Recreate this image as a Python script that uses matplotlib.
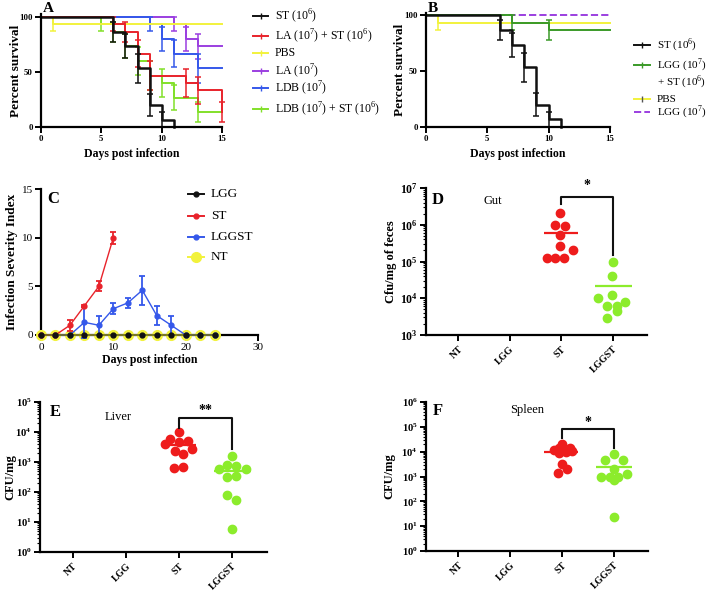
import matplotlib
matplotlib.use("Agg")
import matplotlib.pyplot as plt
from matplotlib.lines import Line2D
import numpy as np

plt.rcParams['font.family'] = 'Liberation Serif'
plt.rcParams['mathtext.fontset'] = 'custom'
plt.rcParams['mathtext.rm'] = 'Liberation Serif'
plt.rcParams['mathtext.bf'] = 'Liberation Serif:bold'

# ---- panel A : survival (%), step times and standard errors
a_st_t = [0, 6, 7, 8, 9, 10, 11]
a_st_s = [100, 86.7, 73.3, 53.3, 20, 6.7, 0]
a_st_e = [0, 9, 11, 13, 10, 6.5, 0]
a_last_t = [0, 6, 7, 8, 9, 12, 13, 15]
a_last_s = [100, 93.3, 86.7, 66.7, 46.7, 40, 33.3, 13.3]
a_last_e = [0, 6.5, 9, 12, 13, 13, 12, 9]
a_pbs_t = [0, 1, 15]
a_pbs_s = [100, 93.3, 93.3]
a_pbs_e = [0, 6.5, 0]
a_la_t = [0, 11, 12, 13, 15]
a_la_s = [100, 93.3, 80, 73.3, 73.3]
a_la_e = [0, 6.5, 10.5, 11.5, 0]
a_ldb_t = [0, 9, 10, 11, 13, 15]
a_ldb_s = [100, 93.3, 80, 66.7, 53.3, 53.3]
a_ldb_e = [0, 6.5, 10.5, 12, 13, 0]
a_ldbst_t = [0, 5, 6, 7, 8, 9, 10, 11, 13, 15]
a_ldbst_s = [100, 93.3, 86.7, 73.3, 60, 46.7, 40, 26.7, 13.3, 13.3]
a_ldbst_e = [0, 6.5, 9, 11, 12.5, 13, 13, 11.5, 9, 0]

# ---- panel B
b_lggst_t = [0, 7, 10, 15]
b_lggst_s = [100, 93.3, 86.7, 86.7]
b_lggst_e = [0, 6.5, 9, 0]
b_lgg_t = [0, 15]
b_lgg_s = [100, 100]

# ---- panel C : infection severity index
c_days = [0, 2, 4, 6, 8, 10, 12, 14, 16, 18, 20, 22, 24]
c_lgg = [0, 0, 0, 0, 0, 0, 0, 0, 0, 0, 0, 0, 0]
c_nt = [0, 0, 0, 0, 0, 0, 0, 0, 0, 0, 0, 0, 0]
c_st_days = [0, 2, 4, 6, 8, 10]
c_st = [0, 0, 1, 3, 5, 10]
c_st_err = [0, 0, 0.55, 0.1, 0.5, 0.6]
c_lggst = [0, 0, 0, 1.3, 1, 2.7, 3.3, 4.6, 2, 1, 0, 0, 0]
c_lggst_err = [0, 0, 0, 1.6, 1, 0.55, 0.5, 1.5, 1, 1, 0, 0, 0]

# ---- panels D, E, F : bacterial counts
groups = ['NT', 'LGG', 'ST', 'LGGST']
d_st = [2.1e6, 1.0e6, 9.4e5, 5.1e5, 2.6e5, 2.0e5, 1.26e5, 1.26e5, 1.26e5]
d_st_dx = [-0.03, -0.12, 0.07, -0.03, -0.03, 0.23, -0.28, -0.12, 0.06]
d_lggst = [1.0e5, 4.1e4, 1.2e4, 1.0e4, 6.3e3, 6.3e3, 7.9e3, 4.6e3, 2.9e3]
d_lggst_dx = [0, -0.01, -0.02, -0.28, -0.12, 0.07, 0.23, 0.07, -0.11]
d_means = [6e5, 2.1e4]

e_st = [9.8e3, 5.9e3, 4.6e3, 5.0e3, 3.9e3, 2.8e3, 2.3e3, 1.9e3, 650, 680]
e_st_dx = [0, -0.17, 0, 0.17, -0.26, 0.24, -0.08, 0.08, -0.1, 0.08]
e_lggst = [1.6e3, 780, 740, 590, 590, 316, 350, 78, 55, 6]
e_lggst_dx = [0, -0.09, 0.08, -0.24, 0.26, -0.09, 0.08, -0.09, 0.08, 0]
e_means = [3.8e3, 510]

f_st = [2.0e4, 1.2e4, 1.4e4, 1.35e4, 8.5e3, 1.0e4, 1.1e4, 3.2e3, 2.0e3, 1.4e3]
f_st_dx = [0, -0.16, -0.06, 0.16, -0.05, 0.08, 0.2, 0, 0.09, -0.08]
f_lggst = [8e3, 4.6e3, 4.6e3, 2.0e3, 1.0e3, 980, 1.0e3, 1.25e3, 700, 23]
f_lggst_dx = [0, -0.16, 0.18, 0, -0.24, -0.08, 0.08, 0.25, 0, 0]
f_means = [1.0e4, 2.5e3]

W, H = 708, 594
fig = plt.figure(figsize=(W / 100, H / 100), dpi=100)


def box(l, t, r, b):
    return [l / W, 1 - b / H, (r - l) / W, (b - t) / H]


def style(ax, lsize=7):
    for s in ['top', 'right']:
        ax.spines[s].set_visible(False)
    for s in ['left', 'bottom']:
        ax.spines[s].set_linewidth(1.6)
    ax.tick_params(direction='out', length=4, width=1.4, labelsize=lsize, pad=2)
    for lab in ax.get_xticklabels() + ax.get_yticklabels():
        lab.set_fontweight('bold')


def ylab(ax, text, xpos, size=9.5):
    ax.set_ylabel(text, fontsize=size, fontweight='bold', va='center')
    ax.yaxis.set_label_coords(xpos, 0.5)


def km(ax, t, s, e, color, lw=1.4, ls='-'):
    ax.step(t, s, where='post', color=color, lw=lw, ls=ls, clip_on=False)
    tt = [x for x, er in zip(t, e) if er > 0]
    ss = [y for y, er in zip(s, e) if er > 0]
    ee = [er for er in e if er > 0]
    ax.errorbar(tt, ss, yerr=ee, fmt='none', ecolor=color, elinewidth=1.1,
                capsize=2, capthick=1.1, clip_on=False)


def legend_entry(x0, x1, y, text, color, ls='-', marker=None, ms=4, mfc=None, size=8.5):
    fig.add_artist(Line2D([x0 / W, x1 / W], [1 - y / H, 1 - y / H], color=color,
                          lw=1.4, ls=ls))
    if marker:
        fig.add_artist(Line2D([(x0 + x1) / 2 / W], [1 - y / H], color=color, marker=marker,
                              ms=ms, mfc=mfc or color, mec=mfc or color, lw=0))
    fig.text((x1 + 7) / W, 1 - y / H, text, fontsize=size, va='center', ha='left')


black = '#111111'
red = '#e8232b'
yellow = '#f2f23c'
purple = '#9b3fe0'
blue = '#3558ea'
lgreen = '#82e02a'
dgreen = '#3a9a28'
dotred = '#ee1c1c'
dotgreen = '#8cec2c'

# ---------------- A
ax = fig.add_axes(box(41, 14, 222, 127))
km(ax, a_la_t, a_la_s, a_la_e, purple)
km(ax, a_ldb_t, a_ldb_s, a_ldb_e, blue)
km(ax, a_ldbst_t, a_ldbst_s, a_ldbst_e, lgreen)
km(ax, a_pbs_t, a_pbs_s, a_pbs_e, yellow)
km(ax, a_last_t, a_last_s, a_last_e, red)
km(ax, a_st_t, a_st_s, a_st_e, black, lw=1.8)
ax.set_xlim(0, 15)
ax.set_ylim(0, 102.7)
ax.set_xticks([0, 5, 10, 15])
ax.set_yticks([0, 50, 100])
style(ax, lsize=6.3)
ax.set_xlabel('Days post infection', fontsize=8.5, fontweight='bold', labelpad=3)
ylab(ax, 'Percent survival', -0.14)
fig.text(43 / W, 1 - 9 / H, 'A', fontsize=11, fontweight='bold', va='center')

legend_entry(253, 268, 16, 'ST (10$^6$)', black, marker='|')
legend_entry(253, 268, 36, 'LA (10$^7$) + ST (10$^6$)', red, marker='|')
legend_entry(253, 268, 53, 'PBS', yellow, marker='|')
legend_entry(253, 268, 71, 'LA (10$^7$)', purple, marker='|')
legend_entry(253, 268, 88, 'LDB (10$^7$)', blue, marker='|')
legend_entry(253, 268, 109, 'LDB (10$^7$) + ST (10$^6$)', lgreen, marker='|')

# ---------------- B
ax = fig.add_axes(box(426, 13, 610, 127))
ax.plot(b_lgg_t, b_lgg_s, color=purple, lw=1.4, ls='--', clip_on=False)
km(ax, a_pbs_t, a_pbs_s, a_pbs_e, yellow)
km(ax, b_lggst_t, b_lggst_s, b_lggst_e, dgreen)
km(ax, a_st_t, a_st_s, a_st_e, black, lw=1.8)
ax.set_xlim(0, 15)
ax.set_ylim(0, 101.8)
ax.set_xticks([0, 5, 10, 15])
ax.set_yticks([0, 50, 100])
style(ax, lsize=6.3)
ax.set_xlabel('Days post infection', fontsize=8.5, fontweight='bold', labelpad=3)
ylab(ax, 'Percent survival', -0.14)
fig.text(428 / W, 1 - 8 / H, 'B', fontsize=11, fontweight='bold', va='center')

legend_entry(634, 650, 45, 'ST (10$^6$)', black, marker='|', size=8)
legend_entry(634, 650, 65, 'LGG (10$^7$)', dgreen, marker='|', size=8)
fig.text(657 / W, 1 - 82 / H, '+ ST (10$^6$)', fontsize=8, va='center')
legend_entry(634, 650, 99, 'PBS', yellow, marker='|', mfc='#555555', size=8)
legend_entry(634, 650, 112, 'LGG (10$^7$)', purple, ls='--', size=8)

# ---------------- C
ax = fig.add_axes(box(41, 189, 258, 335))
ax.plot(c_days, c_nt, color=yellow, marker='o', ms=7, lw=1.2, clip_on=False, zorder=3)
ax.errorbar(c_days, c_lggst, yerr=c_lggst_err, color=blue, marker='o', ms=3.5, lw=1,
            elinewidth=1.3, capsize=2.5, capthick=1.3, clip_on=False, zorder=4)
ax.errorbar(c_st_days, c_st, yerr=c_st_err, color=red, marker='o', ms=3.5, lw=1,
            elinewidth=1.3, capsize=2.5, capthick=1.3, clip_on=False, zorder=5)
ax.plot(c_days, c_lgg, color='#6b6b20', marker='o', ms=3.5, mfc=black, mec=black, lw=1.2,
        clip_on=False, zorder=6)
ax.set_xlim(0, 30)
ax.set_ylim(0, 15)
ax.set_xticks([0, 10, 20, 30])
ax.set_yticks([0, 5, 10, 15])
style(ax, lsize=8)
for lab in ax.get_xticklabels() + ax.get_yticklabels():
    lab.set_fontweight('normal')
ax.set_xlabel('Days post infection', fontsize=8.5, fontweight='bold', labelpad=1)
ylab(ax, 'Infection Severity Index', -0.134)
fig.text(47 / W, 1 - 199 / H, 'C', fontsize=12, fontweight='bold', va='center')

legend_entry(188, 204, 194, 'LGG', black, marker='o', ms=3.5, size=9.5)
legend_entry(188, 204, 216, 'ST', red, marker='o', ms=3.5, size=9.5)
legend_entry(188, 204, 237, 'LGGST', blue, marker='o', ms=3.5, size=9.5)
legend_entry(188, 204, 257, 'NT', yellow, marker='o', ms=7, size=9.5)


# ---------------- D, E, F
def dots(ax, st, st_dx, lg, lg_dx, means, ylim, ylabel, tick_size, ylab_x):
    ax.set_yscale('log')
    ax.plot(2 + np.array(st_dx), st, 'o', color=dotred, ms=6, clip_on=False)
    ax.plot(3 + np.array(lg_dx), lg, 'o', color=dotgreen, ms=6, clip_on=False)
    ax.hlines(means[0], 2 - 0.34, 2 + 0.32, color=dotred, lw=1.6)
    ax.hlines(means[1], 3 - 0.34, 3 + 0.36, color=dotgreen, lw=1.6)
    ax.set_ylim(*ylim)
    ax.set_xlim(-0.62, 3.66)
    ax.set_xticks(range(len(groups)))
    ax.set_xticklabels(groups, rotation=45, ha='right', rotation_mode='anchor')
    lo, hi = int(np.log10(ylim[0])), int(np.log10(ylim[1]))
    ax.set_yticks([10.0 ** k for k in range(lo, hi + 1)])
    ax.set_yticklabels([r'$\mathbf{10^{%d}}$' % k for k in range(lo, hi + 1)])
    style(ax, lsize=tick_size)
    ax.tick_params(axis='x', labelsize=7, pad=3)
    ax.tick_params(axis='y', which='minor', direction='out', length=2, width=0.8)
    ylab(ax, ylabel, ylab_x, size=9)


def bracket(ax, y_st, y_top, y_lg, y_star, stars):
    ax.plot([2, 2, 3, 3], [y_st, y_top, y_top, y_lg], color=black, lw=1.5, clip_on=False)
    ax.text(2.5, y_star, stars, ha='center', va='center', fontsize=10, fontweight='bold')


ax = fig.add_axes(box(426, 188, 647, 335))
dots(ax, d_st, d_st_dx, d_lggst, d_lggst_dx, d_means, (1e3, 1e7), 'Cfu/mg of feces', 8.5, -0.16)
bracket(ax, 3.7e6, 5.7e6, 1.5e5, 1.15e7, '*')
ax.text(0.5, 10 ** 6.65, 'Gut', fontsize=9, va='center')
fig.text(432 / W, 1 - 200 / H, 'D', fontsize=12, fontweight='bold', va='center')

ax = fig.add_axes(box(40, 402, 267, 552))
dots(ax, e_st, e_st_dx, e_lggst, e_lggst_dx, e_means, (1, 1e5), 'CFU/mg', 7.6, -0.13)
bracket(ax, 1.4e4, 2.9e4, 2.8e3, 5.2e4, '**')
ax.text(0.6, 10 ** 4.5, 'Liver', fontsize=9, va='center')
fig.text(50 / W, 1 - 412 / H, 'E', fontsize=12, fontweight='bold', va='center')

ax = fig.add_axes(box(426, 402, 648, 551))
dots(ax, f_st, f_st_dx, f_lggst, f_lggst_dx, f_means, (1, 1e6), 'CFU/mg', 7.6, -0.165)
bracket(ax, 3.4e4, 8.5e4, 1.35e4, 1.45e5, '*')
ax.text(1.0, 10 ** 5.67, 'Spleen', fontsize=9, va='center')
fig.text(433 / W, 1 - 411 / H, 'F', fontsize=12, fontweight='bold', va='center')

fig.savefig('out.png', dpi=100)
